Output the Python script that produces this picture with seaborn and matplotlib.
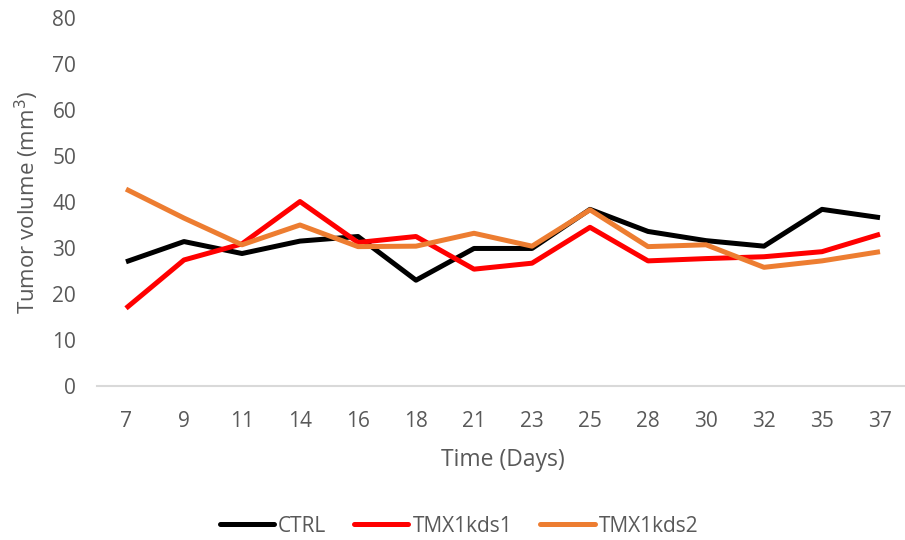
import matplotlib
matplotlib.use("Agg")
import matplotlib.pyplot as plt
import seaborn as sns
import pandas as pd

days = ["7", "9", "11", "14", "16", "18", "21", "23", "25", "28", "30", "32", "35", "37"]
ctrl = [27.0, 31.4, 28.8, 31.5, 32.5, 23.0, 29.9, 29.9, 38.4, 33.6, 31.6, 30.4, 38.4, 36.6]
tmx1kds1 = [16.9, 27.4, 30.9, 40.1, 31.2, 32.5, 25.4, 26.7, 34.5, 27.2, 27.7, 28.1, 29.2, 33.0]
tmx1kds2 = [42.8, 36.5, 30.7, 35.0, 30.3, 30.4, 33.2, 30.4, 38.3, 30.3, 30.7, 25.8, 27.2, 29.2]
series_names = ["CTRL", "TMX1kds1", "TMX1kds2"]
series_colors = ["#000000", "#FF0000", "#ED7D31"]
y_ticks = [0, 10, 20, 30, 40, 50, 60, 70, 80]

rows = []
for name, vals in zip(series_names, [ctrl, tmx1kds1, tmx1kds2]):
    for i, v in enumerate(vals):
        rows.append({"pos": i, "day": days[i], "volume": v, "group": name})
df = pd.DataFrame(rows)

sns.set_style("white")
plt.rcParams["font.family"] = ["Open Sans", "DejaVu Sans"]
text_color = "#595959"

W, H = 905, 540
fig = plt.figure(figsize=(W / 100, H / 100), dpi=100)
left, right, top, bottom = 97, 909, 18, 386
ax = fig.add_axes([left / W, 1 - bottom / H, (right - left) / W, (bottom - top) / H])

sns.lineplot(data=df, x="pos", y="volume", hue="group", hue_order=series_names,
             palette=series_colors, linewidth=3.6, ax=ax, legend=False,
             solid_capstyle="butt")

ax.set_xlim(-0.5, len(days) - 0.5)
ax.set_ylim(0, 80)
ax.set_xticks(range(len(days)))
ax.set_xticklabels(days)
ax.set_yticks(y_ticks)
ax.tick_params(axis="both", length=0, labelsize=15, labelcolor=text_color)
ax.tick_params(axis="x", pad=18)
ax.tick_params(axis="y", pad=15)
for s in ["top", "right", "left"]:
    ax.spines[s].set_visible(False)
ax.spines["bottom"].set_color("#D9D9D9")
ax.spines["bottom"].set_linewidth(1.5)
ax.grid(False)

ax.set_xlabel("")
ax.set_ylabel("")
fig.text(503 / W, 1 - 460 / H, "Time (Days)", ha="center", va="center",
         fontsize=16.5, color=text_color)
fig.text(27 / W, 1 - 202 / H, "Tumor volume (mm$^3$)", ha="center", va="center",
         rotation=90, fontsize=16, color=text_color)

handles = [plt.Line2D([], [], color=c, linewidth=3.6, solid_capstyle="round")
           for c in series_colors]
fig.legend(handles, series_names, loc="center", bbox_to_anchor=(459 / W, 1 - 526 / H),
           ncol=3, frameon=False, fontsize=15, handlelength=2.6, handletextpad=0.2,
           columnspacing=1.35, labelcolor=text_color)

fig.savefig("out.png", dpi=100)
